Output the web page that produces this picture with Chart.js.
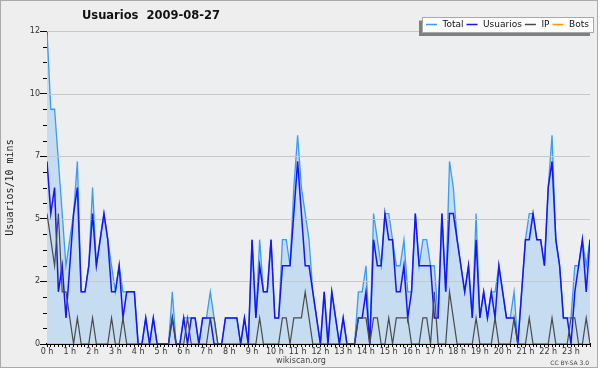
<!DOCTYPE html>
<html>
<head>
<meta charset="utf-8">
<script src="https://cdn.jsdelivr.net/npm/chart.js"></script>
<style>
  body { margin: 0; background: #fff; }
  canvas { display: block; }
</style>
</head>
<body>
<canvas id="myChart" width="600" height="370"></canvas>
<script>
// 10 minute slots, 00:00 .. 23:50
var total = [
  12,9,9,7,5,3,4,5,7,2,2,3,
  6,3,4,5,4,3,2,3,2,2,2,2,
  0,0,1,0,1,0,0,0,0,2,0,0,
  1,1,1,1,0,1,1,2,1,0,0,1,
  1,1,1,0,1,0,4,1,4,2,2,4,
  1,1,4,4,3,6,8,6,5,4,2,1,
  0,2,0,2,1,0,1,0,0,0,2,2,
  3,0,5,4,3,5,5,4,3,3,4,2,
  2,5,3,4,4,3,3,1,5,2,7,6,
  4,3,2,3,1,5,1,2,1,2,2,3,
  2,1,1,2,0,2,4,5,5,4,4,3,
  6,8,4,3,1,1,1,3,3,4,3,4
];
var usuarios = [
  7,5,6,2,3,1,3,5,6,2,2,3,
  5,3,4,5,4,2,2,3,1,2,2,2,
  0,0,1,0,1,0,0,0,0,1,0,0,
  1,0,1,1,0,1,1,1,0,0,0,1,
  1,1,1,0,1,0,4,1,3,2,2,4,
  1,1,3,3,3,5,7,5,3,3,2,1,
  0,2,0,2,1,0,1,0,0,0,1,1,
  2,0,4,3,3,5,4,4,2,2,3,1,
  2,5,3,3,3,3,1,1,5,2,5,5,
  4,3,2,3,1,4,1,2,1,2,1,3,
  2,1,1,1,0,2,4,4,5,4,4,3,
  6,7,4,3,1,1,0,2,3,4,2,4
];
var ip = [
  5,4,3,5,2,2,1,0,1,0,0,0,
  1,0,0,0,0,1,0,0,1,0,0,0,
  0,0,0,0,0,0,0,0,0,1,0,0,
  0,1,0,0,0,0,0,1,1,0,0,0,
  0,0,0,0,0,0,0,0,1,0,0,0,
  0,0,1,1,0,1,1,1,2,1,0,0,
  0,0,0,0,0,0,0,0,0,0,1,1,
  1,0,1,1,0,0,1,0,1,1,1,1,
  0,0,0,1,1,0,2,0,0,0,2,1,
  0,0,0,0,0,1,0,0,0,0,1,0,
  0,0,0,1,0,0,0,1,0,0,0,0,
  0,1,0,0,0,0,1,1,0,0,1,0
];
var bots = [
  0,0,0,0,0,0,0,0,0,0,0,0,
  0,0,0,0,0,0,0,0,0,0,0,0,
  0,0,0,0,0,0,0,0,0,0,0,0,
  0,0,0,0,0,0,0,0,0,0,0,0,
  0,0,0,0,0,0,0,0,0,0,0,0,
  0,0,0,0,0,0,0,0,0,0,0,0,
  0,0,0,0,0,0,0,0,0,0,0,0,
  0,0,0,0,0,0,0,0,0,0,0,0,
  0,0,0,0,0,0,0,0,0,0,0,0,
  0,0,0,0,0,0,0,0,0,0,0,0,
  0,0,0,0,0,0,0,0,0,0,0,0,
  0,0,0,0,0,0,0,0,0,0,0,0
];
var hourLabels = ['0 h','1 h','2 h','3 h','4 h','5 h','6 h','7 h','8 h','9 h','10 h','11 h',
  '12 h','13 h','14 h','15 h','16 h','17 h','18 h','19 h','20 h','21 h','22 h','23 h'];
var yTickLabels = ['0','2','5','7','10','12'];
var seriesNames = ['Total','Usuarios','IP','Bots'];
var seriesColors = ['#3a9cf6','#1414ff','#4a4a4a','#ff9a00'];

var FONT = '"DejaVu Sans", Verdana, sans-serif';

function pts(arr) {
  return arr.map(function (v, i) { return { x: i, y: v }; });
}

var extras = {
  id: 'extras',
  beforeDraw: function (chart) {
    var ctx = chart.ctx, a = chart.chartArea;
    ctx.save();
    ctx.fillStyle = '#ffffff';
    ctx.fillRect(0, 0, 600, 370);
    ctx.fillStyle = '#eeeeee';
    ctx.fillRect(0, 0, 598, 368);
    ctx.strokeStyle = '#aaaaaa';
    ctx.lineWidth = 1;
    ctx.strokeRect(0.5, 0.5, 597, 367);
    ctx.fillStyle = '#edeef0';
    ctx.fillRect(a.left, a.top, a.right - a.left, a.bottom - a.top);
    ctx.restore();
  },
  // grid lines go over the filled total area but under the other lines
  afterDatasetDraw: function (chart, args) {
    if (args.index !== 0) return;
    var ctx = chart.ctx, a = chart.chartArea, y = chart.scales.y;
    ctx.save();
    ctx.strokeStyle = '#c8c8c8';
    ctx.lineWidth = 1;
    y.ticks.forEach(function (t) {
      if (t.value === 0) return;
      var py = Math.round(y.getPixelForValue(t.value)) + 0.5;
      ctx.beginPath();
      ctx.moveTo(a.left, py);
      ctx.lineTo(a.right, py);
      ctx.stroke();
    });
    ctx.restore();
  },
  afterDraw: function (chart) {
    var ctx = chart.ctx, a = chart.chartArea, y = chart.scales.y;
    ctx.save();
    // minor ticks on y
    ctx.strokeStyle = '#000';
    ctx.lineWidth = 1;
    for (var k = 1; k < 20; k++) {
      if (k % 4 === 0) continue;
      var py = Math.round(y.getPixelForValue(k * 0.6)) + 0.5;
      ctx.beginPath();
      ctx.moveTo(a.left - 4, py);
      ctx.lineTo(a.left, py);
      ctx.stroke();
    }

    // title
    ctx.fillStyle = '#111';
    ctx.font = 'bold 11.5px ' + FONT;
    ctx.textAlign = 'center';
    ctx.textBaseline = 'middle';
    ctx.fillText('Usuarios  2009-08-27', 151, 16.5);

    // legend box with shadow
    ctx.fillStyle = '#808080';
    ctx.fillRect(419, 20.5, 171, 15.5);
    ctx.fillStyle = '#ffffff';
    ctx.fillRect(422, 17, 171, 15);
    ctx.strokeStyle = '#a8a8a8';
    ctx.strokeRect(422.5, 17.5, 171, 15);
    ctx.font = '9px ' + FONT;
    ctx.textAlign = 'left';
    var lx = 426;
    for (var i = 0; i < seriesNames.length; i++) {
      ctx.strokeStyle = seriesColors[i];
      ctx.lineWidth = 1.5;
      ctx.beginPath();
      ctx.moveTo(lx, 24.5);
      ctx.lineTo(lx + 11, 24.5);
      ctx.stroke();
      ctx.fillStyle = '#111';
      ctx.fillText(seriesNames[i], lx + 16.5, 25);
      lx += 16.5 + ctx.measureText(seriesNames[i]).width + 3;
    }

    // footer
    ctx.fillStyle = '#444';
    ctx.font = '8px ' + FONT;
    ctx.textAlign = 'center';
    ctx.fillText('wikiscan.org', 301, 361);
    ctx.font = '6px ' + FONT;
    ctx.textAlign = 'right';
    ctx.fillText('CC BY-SA 3.0', 589, 363);
    ctx.restore();
  }
};

var ctx = document.getElementById('myChart');
new Chart(ctx, {
  type: 'line',
  data: {
    datasets: [{
      label: seriesNames[0],
      data: pts(total),
      borderColor: seriesColors[0],
      backgroundColor: '#c6dcf0',
      borderWidth: 1.3,
      fill: 'origin',
      order: 3
    }, {
      label: seriesNames[1],
      data: pts(usuarios),
      borderColor: seriesColors[1],
      borderWidth: 1.5,
      fill: false,
      order: 1
    }, {
      label: seriesNames[2],
      data: pts(ip),
      borderColor: seriesColors[2],
      borderWidth: 1.2,
      fill: false,
      order: 0
    }, {
      label: seriesNames[3],
      data: pts(bots),
      borderColor: seriesColors[3],
      borderWidth: 1,
      fill: false,
      order: 2
    }]
  },
  options: {
    responsive: false,
    animation: false,
    layout: { padding: { left: 0, right: 10, top: 31, bottom: 0 } },
    elements: { point: { radius: 0 }, line: { tension: 0 } },
    plugins: {
      legend: { display: false },
      tooltip: { enabled: false },
      title: { display: false }
    },
    scales: {
      x: {
        type: 'linear',
        min: 0,
        max: 143,
        z: 1,
        border: { color: '#000', width: 2 },
        grid: { display: true, drawOnChartArea: false, drawTicks: true, tickLength: 3, tickColor: '#000' },
        ticks: {
          stepSize: 1,
          autoSkip: false,
          maxRotation: 0,
          padding: 0,
          color: '#333',
          font: { family: FONT, size: 8 },
          callback: function (v) { return v % 6 === 0 ? hourLabels[v / 6] : ''; }
        },
        afterFit: function (s) { s.height = 26; }
      },
      y: {
        min: 0,
        max: 12,
        z: 1,
        border: { color: '#000', width: 1 },
        grid: { drawOnChartArea: false, tickLength: 7, tickColor: '#000' },
        ticks: {
          stepSize: 2.4,
          padding: 0,
          color: '#333',
          font: { family: FONT, size: 8 },
          callback: function (v, i) { return yTickLabels[i]; }
        },
        title: {
          display: true,
          text: 'Usuarios/10 mins',
          color: '#222',
          font: { family: '"DejaVu Sans Mono", monospace', size: 10 },
          padding: { top: 4, bottom: 0 }
        },
        afterFit: function (s) { s.width = 47; }
      }
    }
  },
  plugins: [extras]
});
</script>
</body>
</html>
